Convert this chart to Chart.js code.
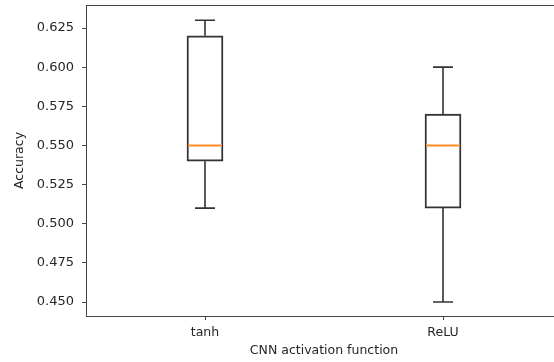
<!DOCTYPE html>
<html>
<head>
<meta charset="utf-8">
<script src="https://cdn.jsdelivr.net/npm/chart.js@4/dist/chart.umd.min.js"></script>
<style>
  html, body { margin: 0; padding: 0; background: #fff; overflow: hidden; }
  #wrap { width: 566px; height: 362px; }
</style>
</head>
<body>
<div id="wrap"><canvas id="myChart"></canvas></div>
<script>
// data
var categories = ["tanh", "ReLU"];
var whiskerLow = [0.51, 0.45];
var boxLow = [0.54, 0.51];
var medians = [0.55, 0.55];
var boxHigh = [0.62, 0.57];
var whiskerHigh = [0.63, 0.60];
var yTicks = [0.450, 0.475, 0.500, 0.525, 0.550, 0.575, 0.600, 0.625];

var boxes = categories.map(function (c, i) { return [boxLow[i], boxHigh[i]]; });

Chart.defaults.font.family = "'DejaVu Sans', sans-serif";
Chart.defaults.font.size = 12;
Chart.defaults.color = "#262626";

// whiskers, caps, medians and the top spine
var boxplotExtras = {
  id: 'boxplotExtras',
  afterDatasetsDraw: function (chart) {
    var ctx = chart.ctx;
    var x = chart.scales.x, y = chart.scales.y;
    ctx.save();
    ctx.lineCap = 'butt';
    categories.forEach(function (c, i) {
      var cx = x.getPixelForValue(i);
      var half = 17, cap = 10;
      ctx.strokeStyle = '#333';
      ctx.lineWidth = 1.6;
      ctx.beginPath();
      ctx.moveTo(cx, y.getPixelForValue(boxLow[i]));
      ctx.lineTo(cx, y.getPixelForValue(whiskerLow[i]));
      ctx.moveTo(cx, y.getPixelForValue(boxHigh[i]));
      ctx.lineTo(cx, y.getPixelForValue(whiskerHigh[i]));
      ctx.moveTo(cx - cap, y.getPixelForValue(whiskerLow[i]));
      ctx.lineTo(cx + cap, y.getPixelForValue(whiskerLow[i]));
      ctx.moveTo(cx - cap, y.getPixelForValue(whiskerHigh[i]));
      ctx.lineTo(cx + cap, y.getPixelForValue(whiskerHigh[i]));
      ctx.stroke();
      ctx.strokeStyle = '#ff8b26';
      ctx.lineWidth = 2;
      ctx.beginPath();
      ctx.moveTo(cx - half, y.getPixelForValue(medians[i]));
      ctx.lineTo(cx + half, y.getPixelForValue(medians[i]));
      ctx.stroke();
    });
    var a = chart.chartArea;
    ctx.strokeStyle = '#444';
    ctx.lineWidth = 1;
    ctx.beginPath();
    ctx.moveTo(a.left, a.top + 0.5);
    ctx.lineTo(a.right, a.top + 0.5);
    ctx.stroke();
    ctx.restore();
  }
};

var ctx = document.getElementById("myChart").getContext('2d');

var myChart = new Chart(ctx, {
  type: 'bar',
  data: {
    labels: categories,
    datasets: [{
      data: boxes,
      backgroundColor: 'rgba(255,255,255,0)',
      borderColor: '#333',
      borderWidth: 1.3,
      borderSkipped: false,
      barThickness: 36
    }]
  },
  options: {
    responsive: true,
    maintainAspectRatio: false,
    animation: false,
    layout: { padding: { top: 5, right: 4, left: 0, bottom: 0 } },
    plugins: { legend: { display: false }, tooltip: { enabled: false } },
    scales: {
      x: {
        offset: true,
        grid: { display: true, drawOnChartArea: false, offset: false, tickLength: 4, color: '#444' },
        border: { color: '#444', width: 1 },
        ticks: { padding: 5, font: { size: 12.5 } },
        title: { display: true, text: 'CNN activation function', font: { size: 12.5 }, padding: { top: 2, bottom: 4 } },
        afterFit: function (s) { s.height = 46; s.paddingLeft = 0; s.paddingRight = 0; }
      },
      y: {
        min: 0.4411,
        max: 0.6397,
        afterBuildTicks: function (s) { s.ticks = yTicks.map(function (v) { return { value: v }; }); },
        grid: { display: true, drawOnChartArea: false, tickLength: 4, color: '#444' },
        border: { color: '#444', width: 1 },
        ticks: { padding: 8, font: { size: 13 }, callback: function (v) { return Number(v).toFixed(3); } },
        title: { display: true, text: 'Accuracy', font: { size: 12.5 }, padding: { top: 12, bottom: 4 } },
        afterFit: function (s) { s.width = 86; s.paddingTop = 0; s.paddingBottom = 0; }
      }
    }
  },
  plugins: [boxplotExtras]
});
</script>
</body>
</html>
